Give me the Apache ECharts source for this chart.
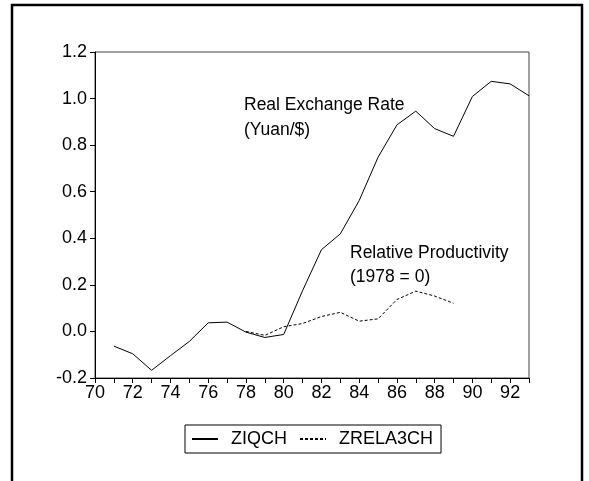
<!DOCTYPE html>
<html>
<head>
<meta charset="utf-8">
<script src="https://cdn.jsdelivr.net/npm/echarts@6/dist/echarts.min.js"></script>
<style>
  html, body { margin: 0; padding: 0; background: #fff; }
  #chart { width: 589px; height: 481px; }
</style>
</head>
<body>
<div id="chart"></div>
<script>
const years = [71, 72, 73, 74, 75, 76, 77, 78, 79, 80, 81, 82, 83, 84, 85, 86, 87, 88, 89, 90, 91, 92, 93]
const ziqch = [-0.063, -0.096, -0.167, -0.104, -0.043, 0.037, 0.040, -0.003, -0.026, -0.013, 0.175, 0.351,
  0.419, 0.562, 0.748, 0.887, 0.946, 0.871, 0.838, 1.009, 1.074, 1.063, 1.012]
const relaYears = [78, 79, 80, 81, 82, 83, 84, 85, 86, 87, 88, 89]
const zrela3ch = [0.0, -0.017, 0.02, 0.034, 0.064, 0.082, 0.044, 0.054, 0.137, 0.173, 0.152, 0.121]

const font = 'Arial, "Liberation Sans", sans-serif'

const chart = echarts.init(document.getElementById('chart'))

const option = {
  animation: false,
  backgroundColor: '#fff',
  grid: {
    left: 95, top: 52, width: 434, height: 326,
    show: true, borderColor: '#444', borderWidth: 1
  },
  xAxis: {
    type: 'value',
    min: 70, max: 93, interval: 1,
    axisLine: { show: true, onZero: false, lineStyle: { color: '#000', width: 1 } },
    axisTick: { show: true, length: 5, lineStyle: { color: '#000' } },
    axisLabel: {
      color: '#000', fontSize: 18, fontFamily: font, margin: 6,
      showMaxLabel: true,
      formatter: v => (v % 2 === 0 ? String(v) : '')
    },
    splitLine: { show: false }
  },
  yAxis: {
    type: 'value',
    min: -0.2, max: 1.2, interval: 0.2,
    axisLine: { show: true, lineStyle: { color: '#000', width: 1 } },
    axisTick: { show: true, length: 5, lineStyle: { color: '#000' } },
    axisLabel: {
      color: '#000', fontSize: 18, fontFamily: font, margin: 8,
      formatter: v => v.toFixed(1)
    },
    splitLine: { show: false }
  },
  legend: {
    left: 185, top: 425,
    orient: 'horizontal',
    borderColor: '#000', borderWidth: 1,
    padding: [5, 8, 5, 6],
    itemGap: 12,
    itemWidth: 26, itemHeight: 14,
    itemStyle: { opacity: 0 },
    textStyle: { color: '#000', fontSize: 18, fontFamily: font, padding: [0, 0, 0, 8] },
    data: ['ZIQCH', 'ZRELA3CH']
  },
  series: [
    {
      name: 'ZIQCH',
      type: 'line',
      symbol: 'none',
      lineStyle: { color: '#000', width: 1 },
      itemStyle: { color: '#000' },
      data: years.map((y, i) => [y, ziqch[i]])
    },
    {
      name: 'ZRELA3CH',
      type: 'line',
      symbol: 'none',
      lineStyle: { color: '#000', width: 1, type: [3, 2] },
      itemStyle: { color: '#000' },
      data: relaYears.map((y, i) => [y, zrela3ch[i]])
    }
  ],
  graphic: [
    {
      type: 'rect',
      shape: { x: 12, y: 5, width: 570, height: 500 },
      style: { fill: 'none', stroke: '#000', lineWidth: 2.5 }
    },
    {
      type: 'text', x: 244, y: 105,
      style: { text: 'Real Exchange Rate', font: '17.5px ' + font, fill: '#000', textVerticalAlign: 'middle' }
    },
    {
      type: 'text', x: 244, y: 130,
      style: { text: '(Yuan/$)', font: '17.5px ' + font, fill: '#000', textVerticalAlign: 'middle' }
    },
    {
      type: 'text', x: 350, y: 253,
      style: { text: 'Relative Productivity', font: '17.5px ' + font, fill: '#000', textVerticalAlign: 'middle' }
    },
    {
      type: 'text', x: 350, y: 277,
      style: { text: '(1978 = 0)', font: '17.5px ' + font, fill: '#000', textVerticalAlign: 'middle' }
    }
  ]
}

chart.setOption(option)
</script>
</body>
</html>
